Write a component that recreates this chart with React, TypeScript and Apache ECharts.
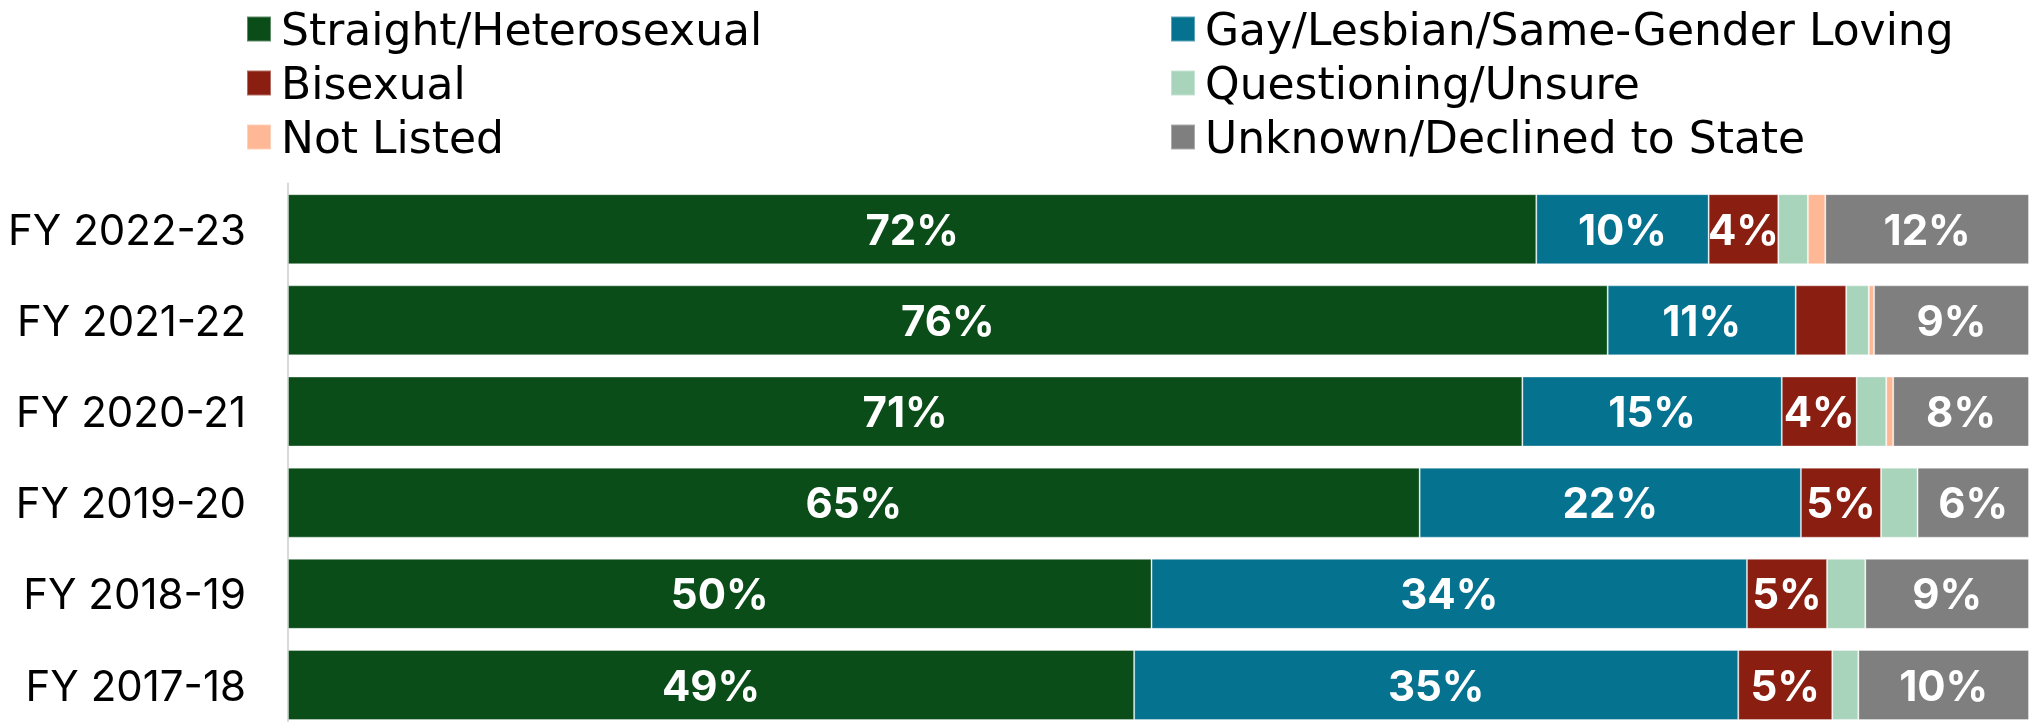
import React, { useEffect, useRef } from "react";
import * as echarts from "echarts";

const categories = ["FY 2022-23", "FY 2021-22", "FY 2020-21", "FY 2019-20", "FY 2018-19", "FY 2017-18"];
const seriesNames = [
  "Straight/Heterosexual",
  "Gay/Lesbian/Same-Gender Loving",
  "Bisexual",
  "Questioning/Unsure",
  "Not Listed",
  "Unknown/Declined to State",
];
const straight = [71.7, 75.8, 70.9, 65.0, 49.6, 48.6];
const gay = [9.9, 10.8, 14.9, 21.9, 34.2, 34.7];
const bisexual = [4.0, 2.9, 4.3, 4.6, 4.6, 5.4];
const questioning = [1.7, 1.3, 1.7, 2.1, 2.2, 1.5];
const notListed = [1.0, 0.3, 0.4, 0, 0, 0];
const unknown = [11.7, 8.9, 7.8, 6.4, 9.4, 9.8];

const seriesValues = [straight, gay, bisexual, questioning, notListed, unknown];
const colors = ["#0B4D19", "#05728F", "#8A1F11", "#A9D4BC", "#FFB895", "#7F7F7F"];

const FONT = "Inter";
const LEGEND_FONT = "DejaVu Sans";

export default function App() {
  const ref = useRef<HTMLDivElement>(null);
  useEffect(() => {
    document.body.style.margin = "0";
    const chart = echarts.init(ref.current!, null, { renderer: "svg" });
    const legendCommon = {
      orient: "vertical" as const,
      top: -3,
      itemWidth: 24,
      itemHeight: 25,
      itemGap: 0,
      icon: "rect",
      selectedMode: false,
      textStyle: {
        fontFamily: LEGEND_FONT,
        fontSize: 44,
        color: "#000",
        lineHeight: 54,
        padding: [0, 0, 0, 5],
      },
    };
    chart.setOption({
      animation: false,
      color: colors,
      legend: [
        { ...legendCommon, left: 241, data: [seriesNames[0], seriesNames[2], seriesNames[4]] },
        { ...legendCommon, left: 1165, data: [seriesNames[1], seriesNames[3], seriesNames[5]] },
      ],
      grid: { left: 288, right: 8, top: 183.6, height: 547, outerBoundsMode: "none" },
      xAxis: { type: "value", min: 0, max: 100, show: false },
      yAxis: {
        type: "category",
        data: categories,
        inverse: true,
        axisLine: { show: true, lineStyle: { color: "#d9d9d9", width: 2 } },
        axisTick: { show: false },
        axisLabel: { fontFamily: FONT, fontSize: 42, color: "#000", margin: 42 },
      },
      series: seriesNames.map((name, i) => ({
        name,
        type: "bar",
        stack: "total",
        data: seriesValues[i],
        barWidth: 70,
        itemStyle: { color: colors[i], borderColor: "rgba(255,255,255,0.35)", borderWidth: 1 },
        label: {
          show: true,
          position: "inside",
          color: "#fff",
          fontFamily: FONT,
          fontWeight: "bold",
          fontSize: 42,
          formatter: (p: any) => (p.value >= 3.5 ? Math.round(p.value) + "%" : ""),
        },
      })),
    });
    return () => chart.dispose();
  }, []);
  return <div ref={ref} style={{ width: 2037, height: 722, position: "fixed", left: 0, top: 0 }} />;
}
